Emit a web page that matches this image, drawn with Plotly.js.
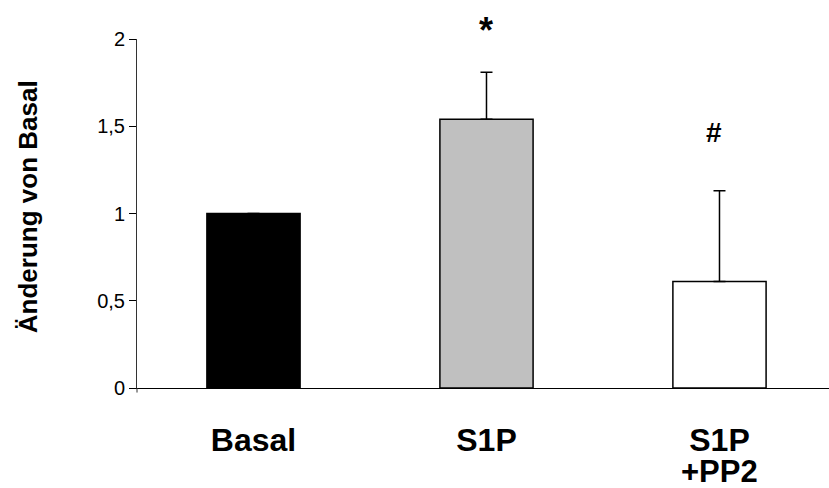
<!DOCTYPE html>
<html>
<head>
<meta charset="utf-8">
<script src="https://cdn.plot.ly/plotly-3.0.1.min.js"></script>
<style>
  html, body { margin: 0; padding: 0; background: #fff; }
  #chart { width: 829px; height: 488px; }
</style>
</head>
<body>
<div id="chart"></div>
<script>
// Fold change relative to basal level
const categories = ["Basal", "S1P", "S1P +PP2"];
const labelLine1 = ["Basal", "S1P", "S1P"];
const labelLine2 = ["", "", "+PP2"];
const values = [1.0, 1.54, 0.61];
const errorsUp = [0, 0.27, 0.52];
const errorsDown = [0, 0, 0];
const markers = ["", "*", "#"];
const barColors = ["#000000", "#c0c0c0", "#ffffff"];

const yTickVals = [0, 0.5, 1, 1.5, 2];
const yTickText = ["0", "0,5", "1", "1,5", "2"];

const FONT = "Arial, 'Liberation Sans', Helvetica, sans-serif";

// glyph-specific styling for the significance marks
const markStyle = {
  "*": { size: 36, shift: 42 },
  "#": { size: 28, shift: 58 }
};

const trace = {
  type: "bar",
  x: categories,
  y: values,
  width: 0.4,
  marker: { color: barColors, line: { color: "#000", width: 1.5 } },
  error_y: {
    type: "data",
    symmetric: false,
    array: errorsUp,
    arrayminus: errorsDown,
    color: "#000",
    thickness: 1.5,
    width: 6
  },
  hoverinfo: "skip"
};

const annotations = [];
categories.forEach((c, i) => {
  const m = markers[i];
  if (m) {
    // significance mark placed a fixed distance above the error bar cap
    annotations.push({
      xref: "x", yref: "y", x: c, y: values[i] + errorsUp[i],
      yshift: markStyle[m].shift, xshift: m === "#" ? -5 : 0,
      text: "<b>" + m + "</b>", showarrow: false,
      font: { family: FONT, size: markStyle[m].size, color: "#000" },
      xanchor: "center", yanchor: "middle"
    });
  }
  if (labelLine2[i]) {
    annotations.push({
      xref: "x", yref: "paper", x: c, y: -0.238,
      text: "<b>" + labelLine2[i] + "</b>", showarrow: false,
      font: { family: FONT, size: 31, color: "#000" },
      xanchor: "center", yanchor: "middle"
    });
  }
});

// Rotated y-axis title
annotations.push({
  xref: "paper", yref: "paper", x: -0.158, y: 0.52,
  text: "<b>Änderung von Basal</b>", textangle: -90, showarrow: false,
  font: { family: FONT, size: 26, color: "#000" },
  xanchor: "center", yanchor: "middle"
});

const layout = {
  width: 829,
  height: 488,
  margin: { l: 137, r: 0, t: 39, b: 100 },
  paper_bgcolor: "#fff",
  plot_bgcolor: "#fff",
  showlegend: false,
  font: { family: FONT, color: "#000" },
  xaxis: {
    type: "category",
    range: [-0.5, 2.47],
    tickvals: categories,
    ticktext: labelLine1.map(t => "<b>" + t + "</b>"),
    tickfont: { family: FONT, size: 32, color: "#000" },
    ticks: "",
    ticklabelstandoff: 24,
    showline: true,
    linecolor: "#000",
    linewidth: 1,
    showgrid: false,
    zeroline: false,
    fixedrange: true
  },
  yaxis: {
    range: [0, 2],
    tickvals: yTickVals,
    ticktext: yTickText,
    tickfont: { family: FONT, size: 20, color: "#000" },
    ticks: "outside",
    ticklen: 7,
    tickwidth: 1,
    tickcolor: "#000",
    showline: true,
    linecolor: "#333",
    linewidth: 1,
    showgrid: false,
    zeroline: false,
    fixedrange: true
  },
  shapes: [{
    type: "line", xref: "paper", yref: "paper",
    x0: 0, x1: 0, y0: 0, y1: -0.013,
    line: { color: "#333", width: 1 }
  }],
  annotations: annotations
};

Plotly.newPlot("chart", [trace], layout, { displayModeBar: false, staticPlot: true });
</script>
</body>
</html>
